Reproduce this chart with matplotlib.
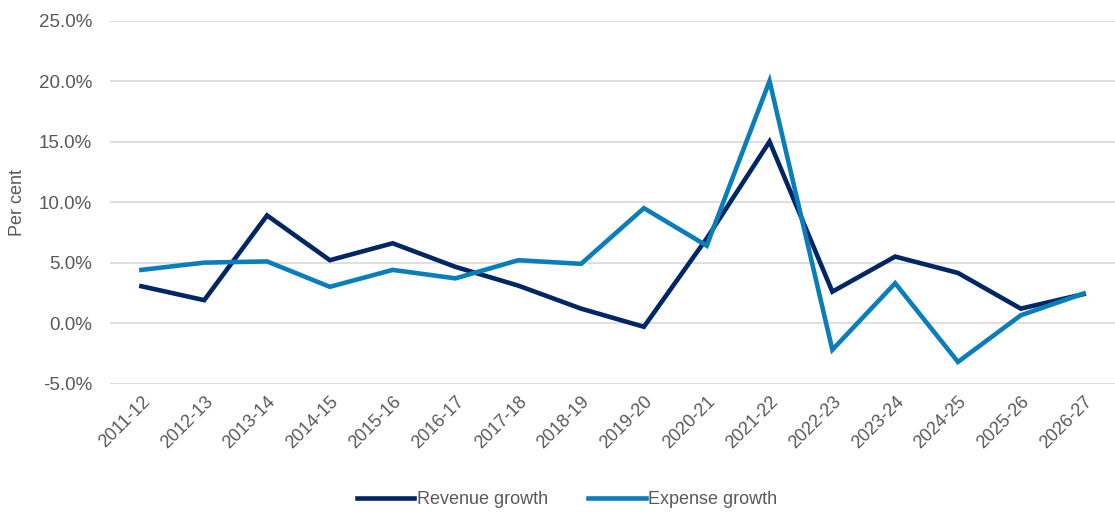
import matplotlib.pyplot as plt
from matplotlib.ticker import FuncFormatter

plt.rcParams['font.family'] = ['Liberation Sans', 'DejaVu Sans']

years = ['2011-12', '2012-13', '2013-14', '2014-15', '2015-16', '2016-17',
         '2017-18', '2018-19', '2019-20', '2020-21', '2021-22', '2022-23',
         '2023-24', '2024-25', '2025-26', '2026-27']
revenue_growth = [3.05, 1.9, 8.9, 5.2, 6.6, 4.65, 3.1, 1.2, -0.3, 7.0,
                  15.0, 2.6, 5.5, 4.15, 1.2, 2.4]
expense_growth = [4.4, 5.0, 5.1, 3.0, 4.4, 3.7, 5.2, 4.9, 9.5, 6.4,
                  20.0, -2.2, 3.3, -3.2, 0.65, 2.45]

navy = '#002664'
blue = '#0A7EBB'
grey_text = '#595959'

fig = plt.figure(figsize=(11.15, 5.12), dpi=100)
ax = fig.add_axes([110 / 1115, 1 - 383.7 / 512, 1 - 110 / 1115, (383.7 - 20.5) / 512])

x = range(len(years))
ax.plot(x, revenue_growth, color=navy, lw=3.3, label='Revenue growth', solid_joinstyle='miter')
ax.plot(x, expense_growth, color=blue, lw=3.3, label='Expense growth', solid_joinstyle='miter')

ax.set_xlim(-0.5, len(years) - 0.5)
ax.set_ylim(-5, 25)
ax.set_yticks([-5, 0, 5, 10, 15, 20, 25])
ax.yaxis.set_major_formatter(FuncFormatter(lambda v, p: f'{v:.1f}%'))
ax.grid(axis='y', color='#d9d9d9', lw=1.2)
ax.set_axisbelow(True)
for s in ax.spines.values():
    s.set_visible(False)
ax.tick_params(length=0)
ax.tick_params(axis='y', labelsize=13.5, labelcolor=grey_text, pad=13)

ax.set_xticks(list(x))
ax.set_xticklabels(years, rotation=45, ha='right', rotation_mode='anchor',
                   fontsize=13, color=grey_text)
ax.tick_params(axis='x', pad=7)

ax.set_ylabel('Per cent', fontsize=13, color=grey_text, labelpad=9)

leg = fig.legend(loc='center', bbox_to_anchor=(567 / 1115, 1 - 500 / 512), ncol=2,
                 frameon=False, handlelength=3.2, columnspacing=2.2, handletextpad=0.15,
                 prop={'size': 13})
for t in leg.get_texts():
    t.set_color(grey_text)

fig.savefig('out.png', dpi=100)
